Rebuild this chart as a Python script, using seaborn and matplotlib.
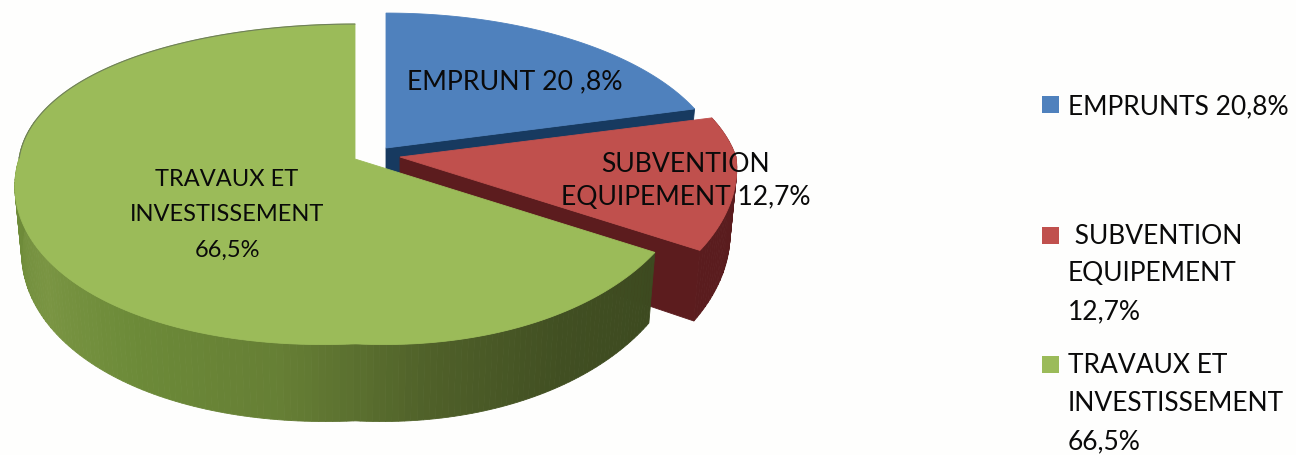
import numpy as np
import matplotlib
matplotlib.use("Agg")
import matplotlib.pyplot as plt
from matplotlib.patches import Rectangle
import seaborn as sns

# --- data ---
categories = ["EMPRUNTS", "SUBVENTION EQUIPEMENT", "TRAVAUX ET INVESTISSEMENT"]
values = [20.8, 12.7, 66.5]
pie_labels = ["EMPRUNT 20 ,8%", "SUBVENTION\nEQUIPEMENT 12,7%", "TRAVAUX ET\nINVESTISSEMENT\n66,5%"]
legend_lines = [["EMPRUNTS 20,8%"], [" SUBVENTION", "EQUIPEMENT", "12,7%"], ["TRAVAUX ET", "INVESTISSEMENT", "66,5%"]]
top_colors = ["#4f81bd", "#c0504d", "#9bbb59"]

sns.set_theme(style="white")
plt.rcParams["font.family"] = ["Lato", "DejaVu Sans"]

fig = plt.figure(figsize=(12.96, 4.56), dpi=100, facecolor="#fefefd")
ax = fig.add_axes([0, 0, 1, 1])
ax.set_xlim(0, 1296)
ax.set_ylim(456, 0)
ax.axis("off")

# projection of the tilted disc (perspective)
R, RY, K, SK, SY, DEPTH, LEAN = 336, 156, 0.156, -30, 15, 65, 0.02
apexes = [(386, 149), (400, 158), (355, 160)]
radii = [0.99, 1.0, 1.0]


def proj(theta, apex, rad=1.0, down=False):
    u, v = np.sin(theta), -np.cos(theta)
    w = 1 - K * v
    x = (R * rad * u + SK * np.maximum(u * v, 0)) / w
    y = (RY * v + SY * np.maximum(np.abs(u) * v, 0)) / w
    if down:
        x = x * (1 - LEAN)
        y = y + DEPTH / w
    return apex[0] + x, apex[1] + y


edges = np.radians(np.concatenate([[0], np.cumsum(values)]) * 3.6)
wall_palettes = [
    sns.blend_palette(["#1f4a78", "#1f4a78"], 8),
    sns.blend_palette(["#6e2726", "#5a1c1e", "#5a1c1e"], 40),
    sns.blend_palette(["#3d4a20", "#414f22", "#4f6029", "#667f35", "#6c8a38", "#7a9543", "#6f8c3a", "#6a8536"], 160),
]
cut_colors = ["#173a60", "#5c1c1e", None]

for i in range(3):
    a0, a1 = edges[i], edges[i + 1]
    apex, rad = apexes[i], radii[i]
    # wall on the outer arc
    if i > 0:
        pal = wall_palettes[i]
        stop = a1 if i == 1 else np.radians(285)
        ts = np.linspace(a0, stop, len(pal) + 1)
        for j, c in enumerate(pal):
            tt = np.linspace(ts[j], ts[j + 1], 4)
            xa, ya = proj(tt, apex, rad)
            xb, yb = proj(tt[::-1], apex, rad, down=True)
            ax.fill(np.r_[xa, xb], np.r_[ya, yb], color=c, lw=0.6, zorder=i * 3 + 1)
    # visible cut face
    if cut_colors[i]:
        xa, ya = proj(a1, apex, rad)
        xb, yb = proj(a1, apex, rad, down=True)
        ax.fill([apex[0], xa, xb, apex[0]], [apex[1], ya, yb, apex[1] + DEPTH],
                color=cut_colors[i], lw=0.6, zorder=i * 3 + 2)
    # top face
    tt = np.linspace(a0, a1, 300)
    xa, ya = proj(tt, apex, rad)
    ax.fill(np.r_[apex[0], xa], np.r_[apex[1], ya], facecolor=top_colors[i],
            edgecolor=top_colors[i], lw=0.6, zorder=i * 3 + 3)
    if i == 2:
        back = tt > np.radians(270)
        ax.plot(xa[back], ya[back], color="#6f7f5a", lw=0.8, zorder=i * 3 + 3)

# data labels
TXT = "#0a0a0a"
ax.text(515, 82, pie_labels[0], ha="center", va="center", fontsize=19.2, color=TXT, zorder=20)
ax.text(686, 181, pie_labels[1], ha="center", va="center", fontsize=19.1, color=TXT,
        linespacing=1.42, zorder=20)
ax.text(227, 215, pie_labels[2], ha="center", va="center", fontsize=17, color=TXT,
        linespacing=1.85, zorder=20)

# legend
swatch_y = [97, 228, 357]
line_y = [[107], [237, 274, 312], [366, 404, 442]]
for color, sy, lines, ys in zip(top_colors, swatch_y, legend_lines, line_y):
    ax.add_patch(Rectangle((1042, sy), 17, 17, facecolor=color, edgecolor="none", zorder=20))
    for line, y in zip(lines, ys):
        ax.text(1068, y, line, ha="left", va="center", fontsize=19, color=TXT, zorder=20)

fig.savefig("out.png", dpi=100, facecolor=fig.get_facecolor())
